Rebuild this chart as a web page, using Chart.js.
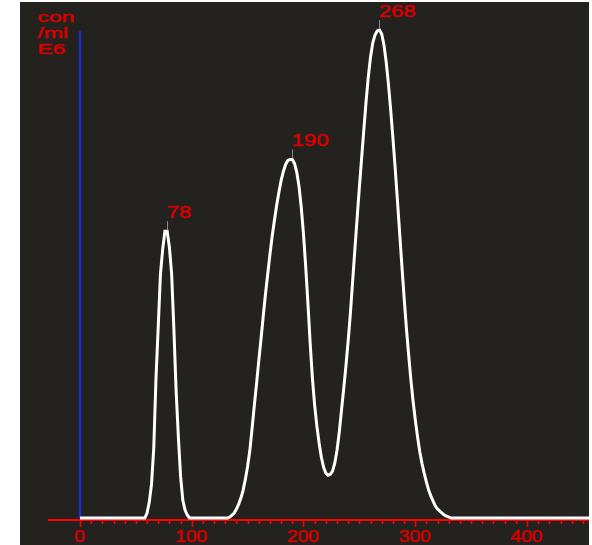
<!DOCTYPE html>
<html>
<head>
<meta charset="utf-8">
<script src="https://cdn.jsdelivr.net/npm/chart.js@4.4.1/dist/chart.umd.min.js"></script>
<style>
  html, body { margin: 0; padding: 0; background: #ffffff; }
  #wrap { position: absolute; left: 20px; top: 2px; width: 569px; height: 543px; background: #23221e; }
</style>
</head>
<body>
<div id="wrap"><canvas id="sizeChart"></canvas></div>
<script>
// particle size (x) vs concentration (y)
const sizes = [
  0, 56, 58, 60, 62, 64, 66, 68, 70, 72, 74, 76, 78, 80, 82, 84, 86, 88, 90, 92, 94, 96, 98, 100,
  130, 132, 134, 136, 138, 140, 142, 144, 146, 148, 150, 152, 154, 156, 158, 160, 162, 164, 166, 168,
  170, 172, 174, 176, 178, 180, 182, 184, 186, 188, 190, 192, 194, 196, 198, 200, 202, 204, 206, 208,
  210, 212, 214, 216, 218, 220, 222, 224, 226, 228, 230, 232, 234, 236, 238, 240, 242, 244, 246, 248,
  250, 252, 254, 256, 258, 260, 262, 264, 266, 268, 270, 272, 274, 276, 278, 280, 282, 284, 286, 288,
  290, 292, 294, 296, 298, 300, 302, 304, 306, 308, 310, 312, 314, 316, 318, 320, 322, 324, 326, 328,
  330, 332, 334, 456
];
const concentration = [
  0, 0, 0, 5, 16, 34, 70, 140, 192, 245, 270, 288, 288, 272, 245, 190, 128, 82, 42, 18, 8, 3, 0, 0,
  0, 0, 1, 3, 5, 9, 14, 20, 28, 39, 52, 68, 90, 113, 135, 158, 180, 203, 225, 245,
  265, 283, 299, 314, 327, 339, 348, 355, 359, 360, 360, 356, 347, 333, 312, 285, 252, 215, 175, 140,
  113, 92, 75, 61, 51, 45, 43, 44, 47, 55, 68, 86, 108, 130, 153, 178, 206, 238, 270, 301,
  332, 361, 390, 418, 443, 463, 477, 485, 489, 490, 486, 475, 458, 436, 410, 382, 352, 320, 287, 254,
  222, 192, 165, 140, 118, 99, 82, 67, 55, 45, 36, 28, 22, 17, 12, 9, 7, 5, 3, 2,
  1, 0, 0, 0
];
const peaks = [78, 190, 268];
const xTickLabels = [0, 100, 200, 300, 400];
const yUnitLines = ["con", "/ml", "E6"];

const RED_TEXT = "#d80000";

function stretchText(ctx, txt, x, y, sx) {
  ctx.save();
  ctx.translate(x, y);
  ctx.scale(sx, 1);
  ctx.fillText(txt, 0, 0);
  ctx.strokeText(txt, 0, 0);
  ctx.restore();
}

const decor = {
  id: "decor",
  beforeDatasetsDraw(chart) {
    const { ctx, chartArea, scales: { x, y } } = chart;
    const base = y.getPixelForValue(0) + 2;
    ctx.save();
    // y axis (blue)
    ctx.strokeStyle = "#1a2ed4";
    ctx.lineWidth = 2.5;
    ctx.beginPath();
    ctx.moveTo(x.getPixelForValue(0), y.getPixelForValue(490) + 1);
    ctx.lineTo(x.getPixelForValue(0), base);
    ctx.stroke();
    // x axis (red) with ticks
    ctx.strokeStyle = "#ff0000";
    ctx.lineWidth = 2;
    ctx.beginPath();
    ctx.moveTo(chartArea.left - 32, base);
    ctx.lineTo(chart.width, base);
    ctx.stroke();
    ctx.lineWidth = 1.5;
    for (let v = 0; v <= 450; v += 10) {
      const px = Math.round(x.getPixelForValue(v)) + 0.5;
      ctx.beginPath();
      ctx.moveTo(px, base);
      ctx.lineTo(px, base + (v % 100 === 0 ? 7 : 4));
      ctx.stroke();
    }
    ctx.restore();
  },
  afterDatasetsDraw(chart) {
    const { ctx, scales: { x, y } } = chart;
    const base = y.getPixelForValue(0) + 2;
    ctx.save();
    ctx.fillStyle = RED_TEXT;
    ctx.strokeStyle = RED_TEXT;
    ctx.lineWidth = 0.6;
    ctx.font = "16px 'Liberation Sans', Arial, sans-serif";
    ctx.textAlign = "center";
    ctx.textBaseline = "alphabetic";
    xTickLabels.forEach(v => stretchText(ctx, String(v), x.getPixelForValue(v), base + 22, 1.2));

    ctx.textAlign = "left";
    peaks.forEach(p => {
      const i = sizes.indexOf(p);
      const px = x.getPixelForValue(p);
      const py = y.getPixelForValue(concentration[i]);
      ctx.strokeStyle = "#8a8a8a";
      ctx.lineWidth = 1;
      ctx.beginPath();
      ctx.moveTo(Math.round(px) + 0.5, py - 1);
      ctx.lineTo(Math.round(px) + 0.5, py - 10);
      ctx.stroke();
      ctx.strokeStyle = RED_TEXT;
      ctx.lineWidth = 0.6;
      stretchText(ctx, String(p), px, py - 13, 1.38);
    });

    ctx.font = "15px 'Liberation Sans', Arial, sans-serif";
    yUnitLines.forEach((t, k) => stretchText(ctx, t, 18, 20 + k * 16, 1.53));
    ctx.restore();
  }
};

new Chart(document.getElementById("sizeChart"), {
  type: "line",
  data: {
    datasets: [{
      data: sizes.map((s, i) => ({ x: s, y: concentration[i] })),
      borderColor: "#ffffff",
      borderWidth: 3,
      pointRadius: 0,
      tension: 0,
      clip: false
    }]
  },
  options: {
    responsive: true,
    maintainAspectRatio: false,
    animation: false,
    layout: { padding: { left: 60, right: 0, top: 28, bottom: 27 } },
    plugins: { legend: { display: false }, tooltip: { enabled: false } },
    scales: {
      x: { type: "linear", min: 0, max: 455.5, display: false },
      y: { min: 0, max: 490, display: false }
    }
  },
  plugins: [decor]
});
</script>
</body>
</html>
